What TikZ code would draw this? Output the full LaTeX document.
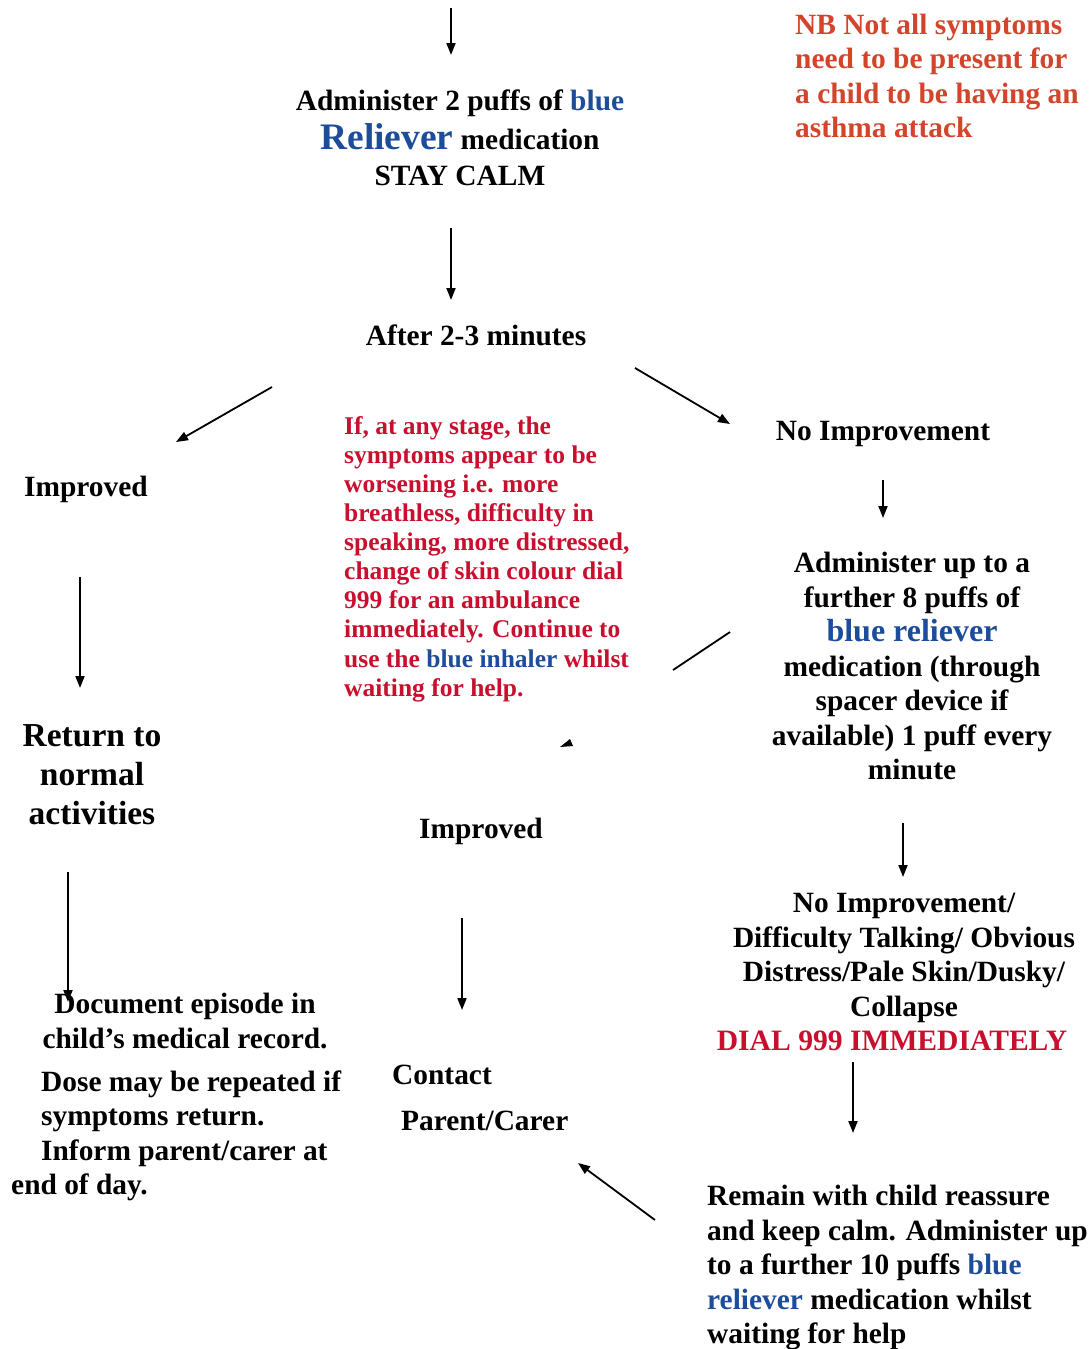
\documentclass[tikz,border=0pt]{standalone}
\usepackage{fontspec}
\setmainfont{Liberation Serif}
\usetikzlibrary{arrows.meta}
\definecolor{relblue}{HTML}{1C4C9A}
\definecolor{alertred}{HTML}{C8102E}
\definecolor{nbred}{HTML}{D2452B}
\newcommand{\bl}[1]{\textcolor{relblue}{#1}}
\tikzset{
  txt/.style={inner sep=0pt, font={\fontsize{29.4}{34.5}\selectfont\bfseries}},
  redtxt/.style={inner sep=0pt, text=alertred, font={\fontsize{25.5}{29.1}\selectfont\bfseries}},
  bigtxt/.style={inner sep=0pt, font={\fontsize{33.5}{39}\selectfont\bfseries}},
  arr/.style={-{Triangle[length=12pt,width=9pt]}, line width=1.8pt},
}

\begin{document}
\begin{tikzpicture}[x=1pt,y=-1pt]
  \useasboundingbox (0,0) rectangle (1091,1349);
  \node[txt, align=center] (admin) at (460,138) {Administer 2 puffs of \bl{blue}\\[4pt]
        {\fontsize{37.4}{40}\selectfont\bl{Reliever}} medication\\[2pt] STAY CALM};
  \node[txt, anchor=base] (after) at (476,345) {After 2-3 minutes};
  \node[txt, anchor=base] (impL) at (86,496) {Improved};
  \node[txt, anchor=base] (noimp) at (883,440) {No Improvement};
  \node[txt, anchor=base] (impM) at (481,838) {Improved};
  \node[txt, align=left, anchor=west, text=nbred] (nb) at (795,76)
        {NB Not all symptoms\\ need to be present for\\ a child to be having an\\ asthma attack};
  \node[redtxt, align=left, anchor=west] (worse) at (344,559)
        {If, at any stage, the\\ symptoms appear to be\\ worsening i.e. more\\
         breathless, difficulty in\\ speaking, more distressed,\\ change of skin colour dial\\
         999 for an ambulance\\ immediately. Continue to\\ use the \bl{blue inhaler} whilst\\ waiting for help.};
  \node[txt, align=center] (further) at (912,666)
        {Administer up to a\\ further 8 puffs of\\ {\fontsize{32}{35}\selectfont\bl{blue reliever}}\\
         medication (through\\ spacer device if\\ available) 1 puff every\\ minute};
  \node[bigtxt, align=center] (ret) at (92,775) {Return to\\ normal\\ activities};
  \node[txt, align=center] (worst) at (904,972)
        {No Improvement/\\ Difficulty Talking/ Obvious\\ Distress/Pale Skin/Dusky/\\ Collapse\\
         \hspace*{-24pt}{\fontsize{29.6}{34}\selectfont\textcolor{alertred}{DIAL 999 IMMEDIATELY}}};
  \node[txt, align=center] (doc) at (185,1021) {Document episode in\\ child’s medical record.};
  \node[txt, align=left, anchor=west] (dose) at (41,1136)
        {Dose may be repeated if\\ symptoms return.\\ Inform parent/carer at\\ \hspace*{-30pt}end of day.};
  \node[txt, align=left, anchor=west] (contact) at (392,1098) {Contact\\[12pt] \hspace*{9pt}Parent/Carer};
  \node[txt, align=left, anchor=west] (remain) at (707,1268)
        {Remain with child reassure\\ and keep calm. Administer up\\ to a further 10 puffs \bl{blue}\\
         \bl{reliever} medication whilst\\ waiting for help};
  \coordinate (start) at (451,8);
  \coordinate (blot) at (567,743);
  \draw[arr] (start) -- ([shift={(-9,-83)}]admin.center);
  \draw[arr] ([shift={(-9,90)}]admin.center) -- ([shift={(-25,-45)}]after.base);
  \draw[arr] ([shift={(-204,42)}]after.base) -- ([shift={(90,-54)}]impL.base);
  \draw[arr] ([shift={(159,23)}]after.base) -- ([shift={(-153,-16)}]noimp.base);
  \draw[arr] ([shift={(0,40)}]noimp.base) -- ([shift={(-29,-148)}]further.center);
  \draw[arr] ([shift={(-6,81)}]impL.base) -- ([shift={(-12,-87)}]ret.center);
  \draw[line width=1.8pt] ([shift={(-182,-34)}]further.center) -- ([shift={(329,111)}]worse.west);
  \fill ([shift={(-7,4)}]blot) -- ([shift={(3,-4)}]blot) -- ([shift={(6,3)}]blot) -- cycle;
  \draw[arr] ([shift={(-9,157)}]further.center) -- ([shift={(-1,-95)}]worst.center);
  \draw[arr] ([shift={(-24,97)}]ret.center) -- ([shift={(-117,-19)}]doc.center);
  \draw[arr] ([shift={(-19,80)}]impM.base) -- ([shift={(70,-88)}]contact.west);
  \draw[arr] ([shift={(-51,90)}]worst.center) -- ([shift={(146,-135)}]remain.west);
  \draw[arr] ([shift={(-52,-48)}]remain.west) -- ([shift={(186,65)}]contact.west);
\end{tikzpicture}
\end{document}
